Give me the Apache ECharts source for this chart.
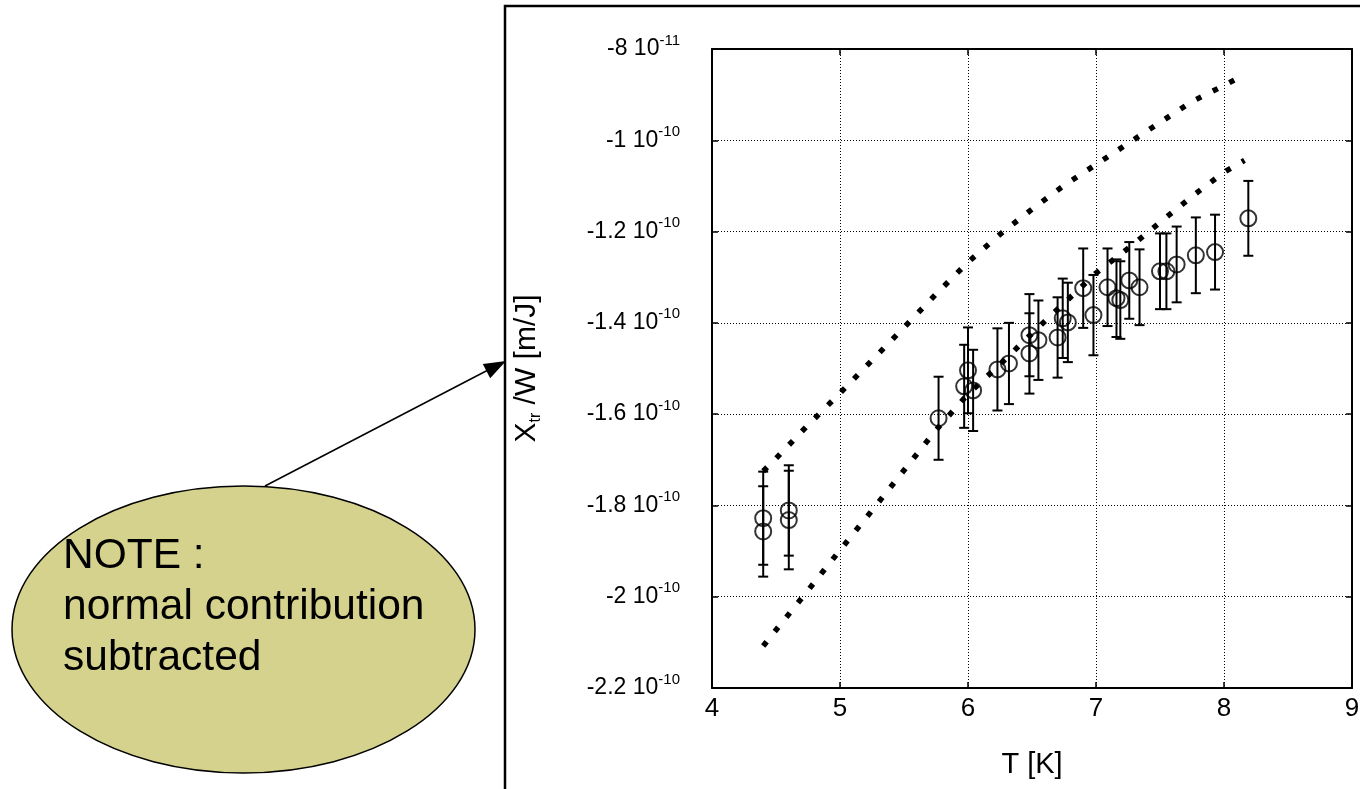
<!DOCTYPE html>
<html>
<head>
<meta charset="utf-8">
<script src="https://cdn.jsdelivr.net/npm/echarts@6/dist/echarts.min.js"></script>
<style>
html, body { margin: 0; padding: 0; background: #fff; }
#chart { width: 1360px; height: 789px; }
</style>
</head>
<body>
<div id="chart"></div>
<script>
// values of X_tr/W are kept in units of 1e-11 m/J
let xTicks = [4, 5, 6, 7, 8, 9];
let yTicks = [-22, -20, -18, -16, -14, -12, -10, -8];

// measured points
let pointT = [4.40, 4.40, 4.60, 4.60, 5.77, 5.97, 6.00, 6.04, 6.23, 6.32,
              6.48, 6.48, 6.55, 6.70, 6.74, 6.78, 6.90, 6.98, 7.09, 7.16,
              7.19, 7.26, 7.34, 7.50, 7.55, 7.63, 7.78, 7.93, 8.19];
let pointX = [-18.28, -18.57, -18.11, -18.32, -16.09, -15.39, -15.04, -15.48, -15.02, -14.89,
              -14.67, -14.27, -14.38, -14.32, -13.90, -13.99, -13.24, -13.83, -13.22, -13.46,
              -13.50, -13.07, -13.22, -12.87, -12.87, -12.72, -12.52, -12.45, -11.71];
let pointErr = [1.02, 0.99, 0.99, 1.08, 0.91, 0.91, 0.94, 0.89, 0.90, 0.89,
                0.88, 0.90, 0.87, 0.88, 0.87, 0.87, 0.87, 0.88, 0.85, 0.85,
                0.85, 0.84, 0.83, 0.83, 0.83, 0.83, 0.83, 0.82, 0.82];

// dotted curves
let curveT = [4.40, 4.50, 4.75, 5.00, 5.25, 5.50, 5.75, 6.00, 6.25, 6.50, 6.75, 7.00, 7.25, 7.50, 7.75, 8.00, 8.16];
let upperX = [-17.25, -16.97, -16.24, -15.54, -14.82, -14.10, -13.37, -12.67, -12.06, -11.51,
              -10.99, -10.53, -10.07, -9.61, -9.15, -8.80, -8.56];
let lowerX = [-21.08, -20.73, -19.86, -18.98, -18.11, -17.23, -16.35, -15.56, -14.91, -14.23,
              -13.57, -12.91, -12.37, -11.80, -11.23, -10.70, -10.44];

let font = 'Liberation Sans';

function yLabel(v) {
    if (Math.round(v) === -8) return '{n|-8 10}{sup|-11}';
    return '{n|' + (Math.round(v) / 10) + ' 10}{sup|-10}';
}

let points = pointT.map((t, i) => [t, pointX[i]]);
let bars = pointT.map((t, i) => [t, pointX[i] - pointErr[i], pointX[i] + pointErr[i]]);
let upper = curveT.map((t, i) => [t, upperX[i]]);
let lower = curveT.map((t, i) => [t, lowerX[i]]);

let dots = {
    type: 'line',
    showSymbol: false,
    silent: true,
    lineStyle: { color: '#000', width: 5.5, type: [5.5, 13], cap: 'butt' }
};

let myChart = echarts.init(document.getElementById('chart'));
let option = {
    backgroundColor: '#fff',
    animation: false,
    grid: { left: 712, right: 8, top: 49, bottom: 101, containLabel: false, outerBoundsMode: 'none' },
    xAxis: [{
        type: 'value', min: xTicks[0], max: xTicks[xTicks.length - 1], interval: 1,
        name: 'T [K]', nameLocation: 'middle', nameGap: 62,
        nameTextStyle: { fontFamily: font, fontSize: 29, color: '#000' },
        axisLine: { lineStyle: { color: '#000', width: 2 } },
        axisTick: { inside: true, length: 6, lineStyle: { color: '#000', width: 1.5 } },
        axisLabel: { fontFamily: font, fontSize: 26, color: '#000', margin: 8 },
        splitLine: { lineStyle: { color: '#000', width: 1, type: [1, 2] } }
    }, {
        type: 'value', position: 'top', min: 4, max: 9, interval: 1,
        axisLine: { lineStyle: { color: '#000', width: 2 } },
        axisTick: { inside: true, length: 6, lineStyle: { color: '#000', width: 1.5 } },
        axisLabel: { show: false },
        splitLine: { show: false }
    }],
    yAxis: [{
        type: 'value', min: yTicks[0], max: yTicks[yTicks.length - 1], interval: 2,
        name: '{n|X}{sub|tr}{n| /W [m/J]}', nameLocation: 'middle', nameGap: 168, nameRotate: 90,
        nameTextStyle: {
            fontFamily: font, color: '#000',
            rich: {
                n: { fontFamily: font, fontSize: 30, color: '#000', lineHeight: 34, verticalAlign: 'middle' },
                sub: { fontFamily: font, fontSize: 16, color: '#000', lineHeight: 16, verticalAlign: 'bottom' }
            }
        },
        axisLine: { lineStyle: { color: '#000', width: 2 } },
        axisTick: { inside: true, length: 6, lineStyle: { color: '#000', width: 1.5 } },
        axisLabel: {
            margin: 32, formatter: yLabel,
            rich: {
                n: { fontFamily: font, fontSize: 23, color: '#000', lineHeight: 32, verticalAlign: 'middle' },
                sup: { fontFamily: font, fontSize: 15, color: '#000', lineHeight: 15, verticalAlign: 'top' }
            }
        },
        splitLine: { lineStyle: { color: '#000', width: 1, type: [1, 2] } }
    }, {
        type: 'value', position: 'right', min: -22, max: -8, interval: 2,
        axisLine: { lineStyle: { color: '#000', width: 2 } },
        axisTick: { inside: true, length: 6, lineStyle: { color: '#000', width: 1.5 } },
        axisLabel: { show: false },
        splitLine: { show: false }
    }],
    series: [
        Object.assign({ data: upper }, dots),
        Object.assign({ data: lower }, dots),
        {
            type: 'custom',
            data: bars,
            encode: { x: 0, y: [1, 2] },
            renderItem: function (params, api) {
                let lo = api.coord([api.value(0), api.value(1)]);
                let hi = api.coord([api.value(0), api.value(2)]);
                let st = { stroke: '#000', lineWidth: 2 };
                return {
                    type: 'group',
                    children: [
                        { type: 'line', shape: { x1: lo[0], y1: lo[1], x2: hi[0], y2: hi[1] }, style: st },
                        { type: 'line', shape: { x1: lo[0] - 5, y1: lo[1], x2: lo[0] + 5, y2: lo[1] }, style: st },
                        { type: 'line', shape: { x1: hi[0] - 5, y1: hi[1], x2: hi[0] + 5, y2: hi[1] }, style: st }
                    ]
                };
            }
        },
        {
            type: 'scatter',
            data: points,
            symbol: 'circle',
            symbolSize: 16,
            itemStyle: { color: 'rgba(0,0,0,0)', borderColor: '#000', borderWidth: 2 }
        }
    ],
    graphic: [
        // outer frame of the plot panel
        { type: 'rect', shape: { x: 505, y: 6, width: 880, height: 800 },
          style: { fill: 'none', stroke: '#000', lineWidth: 2.5 }, silent: true },
        // note bubble
        { type: 'ellipse', shape: { cx: 243.5, cy: 629.5, rx: 231.5, ry: 143.5 },
          style: { fill: '#d4d28c', stroke: '#000', lineWidth: 1.5 } },
        { type: 'text', left: 63, top: 531,
          style: { text: 'NOTE :\nnormal contribution\nsubtracted', fontFamily: font, fontSize: 42.5,
                   lineHeight: 51, fill: '#000' } },
        // arrow
        { type: 'line', shape: { x1: 265, y1: 486, x2: 490, y2: 369 },
          style: { stroke: '#000', lineWidth: 1.5 } },
        { type: 'polygon', shape: { points: [[506, 361], [490.2, 378.2], [482.8, 364.0]] },
          style: { fill: '#000' } }
    ]
};
myChart.setOption(option);
</script>
</body>
</html>
